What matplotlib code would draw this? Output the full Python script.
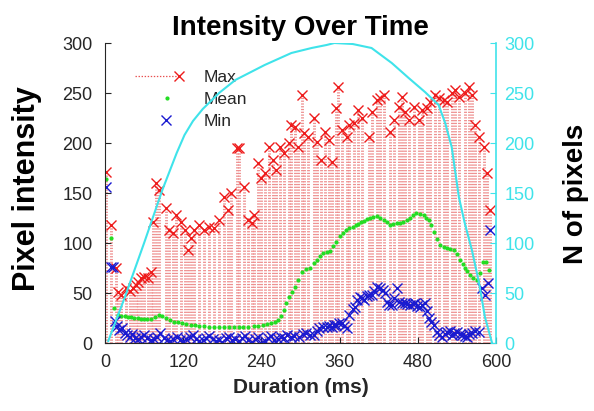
import matplotlib
matplotlib.use("Agg")
import matplotlib.pyplot as plt
from matplotlib.lines import Line2D
from matplotlib.legend_handler import HandlerBase

plt.rcParams['font.family'] = ['Liberation Sans', 'DejaVu Sans']
plt.rcParams['lines.scale_dashes'] = False

# ---------------- data ----------------
max_t = [2, 9, 17, 20, 25, 32, 38, 43, 47, 51, 55, 60, 66, 71, 74, 78, 83, 94, 98, 105,
         109, 117, 122, 128, 132, 137, 145, 152, 160, 168, 175, 183, 189, 194, 202, 205, 214, 220, 225, 229,
         235, 240, 245, 252, 258, 263, 268, 274, 282, 286, 291, 296, 302, 306, 312, 320, 325, 332, 337, 343,
         348, 355, 358, 363, 371, 375, 382, 389, 394, 405, 409, 417, 422, 428, 437, 443, 451, 455, 460, 466,
         474, 482, 486, 494, 498, 506, 512, 520, 525, 532, 537, 543, 552, 558, 563, 568, 574, 582, 586, 591]
max_v = [171, 118, 75, 51, 48, 55, 52, 55, 58, 61, 65, 66, 65, 71, 121, 160, 153, 135, 113, 110,
         128, 121, 113, 93, 105, 113, 118, 113, 116, 115, 123, 146, 133, 150, 195, 195, 156, 123, 120, 128,
         180, 165, 170, 196, 183, 173, 196, 190, 200, 218, 216, 196, 248, 210, 206, 225, 201, 183, 211, 203,
         181, 235, 256, 213, 206, 218, 220, 233, 225, 206, 231, 243, 245, 248, 211, 223, 236, 246, 231, 223,
         236, 223, 233, 235, 241, 248, 245, 243, 241, 250, 253, 246, 250, 256, 248, 218, 206, 196, 170, 133]

mean_t = [2, 9, 14, 20, 25, 30, 35, 40, 45, 50, 55, 60, 65, 71, 77, 83, 88, 94, 100, 106,
          112, 118, 125, 132, 138, 145, 152, 160, 168, 175, 183, 190, 198, 205, 212, 220, 228, 235, 242, 249,
          255, 261, 266, 270, 274, 278, 283, 287, 291, 296, 302, 308, 314, 320, 325, 330, 335, 340, 345, 350,
          355, 360, 365, 370, 375, 380, 385, 389, 393, 397, 402, 406, 411, 417, 422, 428, 432, 437, 442, 448,
          453, 458, 463, 468, 473, 478, 484, 489, 493, 497, 501, 505, 509, 514, 520, 525, 530, 535, 540, 545,
          549, 552, 556, 560, 565, 571, 576, 580, 584, 589]
mean_v = [164, 105, 35, 28, 27, 27, 26, 26, 25, 25, 24, 24, 24, 24, 26, 28, 27, 25, 23, 21,
          21, 20, 19, 18, 18, 17, 17, 16, 16, 16, 16, 16, 16, 16, 16, 16, 17, 17, 18, 19,
          20, 21, 23, 27, 33, 40, 46, 51, 56, 63, 71, 74, 75, 80, 83, 87, 90, 91, 92, 97,
          101, 107, 110, 113, 115, 116, 118, 119, 121, 122, 124, 125, 126, 127, 125, 123, 121, 118, 119, 120,
          120, 121, 123, 125, 128, 130, 129, 128, 125, 123, 118, 111, 104, 98, 96, 95, 94, 93, 89, 83,
          79, 75, 72, 68, 65, 63, 70, 81, 81, 73]

min_t = [2, 9, 12, 15, 18, 22, 26, 30, 34, 38, 42, 46, 50, 55, 60, 65, 70, 75, 80, 85,
         90, 95, 100, 105, 110, 115, 120, 125, 130, 135, 140, 145, 150, 155, 160, 165, 170, 175, 180, 185,
         190, 195, 200, 205, 210, 215, 220, 225, 230, 235, 240, 245, 250, 255, 260, 265, 270, 275, 280, 285,
         290, 298, 304, 309, 315, 320, 325, 329, 335, 340, 344, 348, 352, 355, 359, 363, 367, 371, 375, 380,
         383, 386, 391, 395, 398, 402, 405, 409, 413, 417, 422, 426, 429, 432, 436, 440, 444, 448, 451, 456,
         460, 464, 468, 472, 475, 479, 483, 487, 491, 494, 497, 501, 505, 509, 513, 517, 521, 525, 529, 532,
         536, 540, 544, 548, 552, 555, 559, 563, 568, 574, 578, 583, 587, 591]
min_v = [156, 76, 76, 22, 17, 13, 15, 10, 8, 6, 9, 5, 4, 6, 8, 5, 3, 4, 6, 10,
         5, 3, 2, 4, 6, 3, 2, 4, 6, 8, 4, 2, 3, 5, 7, 4, 2, 3, 1, 5,
         6, 3, 4, 2, 5, 7, 3, 1, 4, 6, 0, 2, 5, 7, 3, 4, 6, 5, 8, 6,
         7, 6, 9, 10, 8, 8, 12, 15, 16, 16, 17, 16, 18, 18, 20, 20, 17, 15, 28, 34,
         36, 43, 46, 45, 43, 47, 48, 48, 52, 56, 55, 53, 50, 41, 38, 38, 45, 55, 41, 40,
         40, 39, 38, 39, 40, 37, 36, 38, 40, 32, 25, 21, 18, 11, 8, 6, 9, 11, 12, 8,
         10, 11, 9, 8, 7, 6, 9, 10, 12, 11, 55, 48, 60, 113]

pix_t = [5, 30, 60, 88, 110, 122, 135, 150, 175, 200, 212, 245, 286, 317, 340, 352, 380, 409, 440, 466,
         491, 512, 522, 532, 543, 552, 563, 574, 583, 594]
pix_v = [2, 45, 100, 153, 190, 208, 222, 234, 250, 263, 267, 278, 290, 295, 298, 300, 299, 295, 280, 265,
         251, 238, 220, 196, 146, 120, 93, 60, 26, 0]

x_ticks = [0, 120, 240, 360, 480, 600]
y_ticks = [0, 50, 100, 150, 200, 250, 300]

assert len(max_t) == len(max_v) and len(mean_t) == len(mean_v)
assert len(min_t) == len(min_v) and len(pix_t) == len(pix_v)

# ---------------- style ----------------
RED = '#ee1c1c'
STEM = '#ee9090'
GREEN = '#22dd22'
BLUE = '#1a1ad0'
CYAN = '#3fe3ea'
DARK = '#262626'
STEM_LS = (0, (0.9, 1.1))

fig = plt.figure(figsize=(5.94, 4.11), dpi=100)
ax = fig.add_axes([105 / 594, 1 - 343 / 411, 391 / 594, 300 / 411])

ax.vlines(max_t, 0, max_v, colors=STEM, linestyles=STEM_LS, linewidth=2.1, zorder=1)
h_max, = ax.plot(max_t, max_v, 'x', color=RED, ms=7, mew=1.0, zorder=3, label='Max')
h_mean, = ax.plot(mean_t, mean_v, '.', color=GREEN, ms=4, zorder=4, label='Mean')
h_min, = ax.plot(min_t, min_v, 'x', color=BLUE, ms=7, mew=1.0, zorder=5, label='Min')

ax.set_xlim(0, 600)
ax.set_ylim(0, 300)
ax.set_xticks(x_ticks)
ax.set_yticks(y_ticks)
ax.tick_params(direction='in', length=4, width=0.8, color=DARK, labelcolor=DARK, labelsize=13)
ax.tick_params(axis='y', pad=9)
ax.tick_params(axis='x', pad=8)
for s in ('top', 'right'):
    ax.spines[s].set_visible(False)
for s in ('left', 'bottom'):
    ax.spines[s].set_color(DARK)
    ax.spines[s].set_linewidth(0.8)
    ax.spines[s].set_zorder(6)

ax.set_title('Intensity Over Time', fontsize=20, fontweight='bold', pad=6)
ax.set_xlabel('Duration (ms)', fontsize=15, fontweight='bold', color=DARK)
ax.xaxis.set_label_coords(0.5, -0.117)
ax.set_ylabel('Pixel intensity', fontsize=22, fontweight='bold', color='black')
ax.yaxis.set_label_coords(-0.161, 0.513)

ax2 = ax.twinx()
ax2.plot(pix_t, pix_v, color=CYAN, lw=1.5)
ax2.set_ylim(0, 300)
ax2.set_yticks(y_ticks)
ax2.tick_params(direction='in', length=4, width=0.8, color=CYAN, labelcolor=CYAN, labelsize=13, pad=6)
for s in ('top', 'left', 'bottom'):
    ax2.spines[s].set_visible(False)
ax2.spines['right'].set_color(CYAN)
ax2.spines['right'].set_linewidth(1.2)
ax2.set_ylabel('N of pixels', fontsize=20, fontweight='bold', color='black')
ax2.yaxis.set_label_coords(1.171, 0.497)


class MarkerAtHandler(HandlerBase):
    def __init__(self, frac, with_line):
        super().__init__()
        self.frac = frac
        self.with_line = with_line

    def create_artists(self, legend, orig_handle, xdescent, ydescent, width, height, fontsize, trans):
        y = height / 2 - ydescent
        arts = []
        if self.with_line:
            ln = Line2D([-xdescent, -xdescent + width], [y, y], color='#e85050', ls=(0, (1, 1.2)), lw=0.9)
            ln.set_transform(trans)
            arts.append(ln)
        mk = Line2D([-xdescent + width * self.frac], [y], ls='none',
                    marker=orig_handle.get_marker(), color=orig_handle.get_color(),
                    ms=orig_handle.get_markersize(), mew=orig_handle.get_markeredgewidth())
        mk.set_transform(trans)
        arts.append(mk)
        return arts


leg = ax.legend([h_max, h_mean, h_min], ['Max', 'Mean', 'Min'],
                handler_map={h_max: MarkerAtHandler(1.0, True),
                             h_mean: MarkerAtHandler(0.73, False),
                             h_min: MarkerAtHandler(0.70, False)},
                loc='upper left', bbox_to_anchor=(0.0767, 0.91), frameon=False,
                borderpad=0, borderaxespad=0, handlelength=2.53, handletextpad=1.44,
                labelspacing=0.4, fontsize=12.5)
for t in leg.get_texts():
    t.set_color(DARK)

fig.savefig('out.png', dpi=100)
